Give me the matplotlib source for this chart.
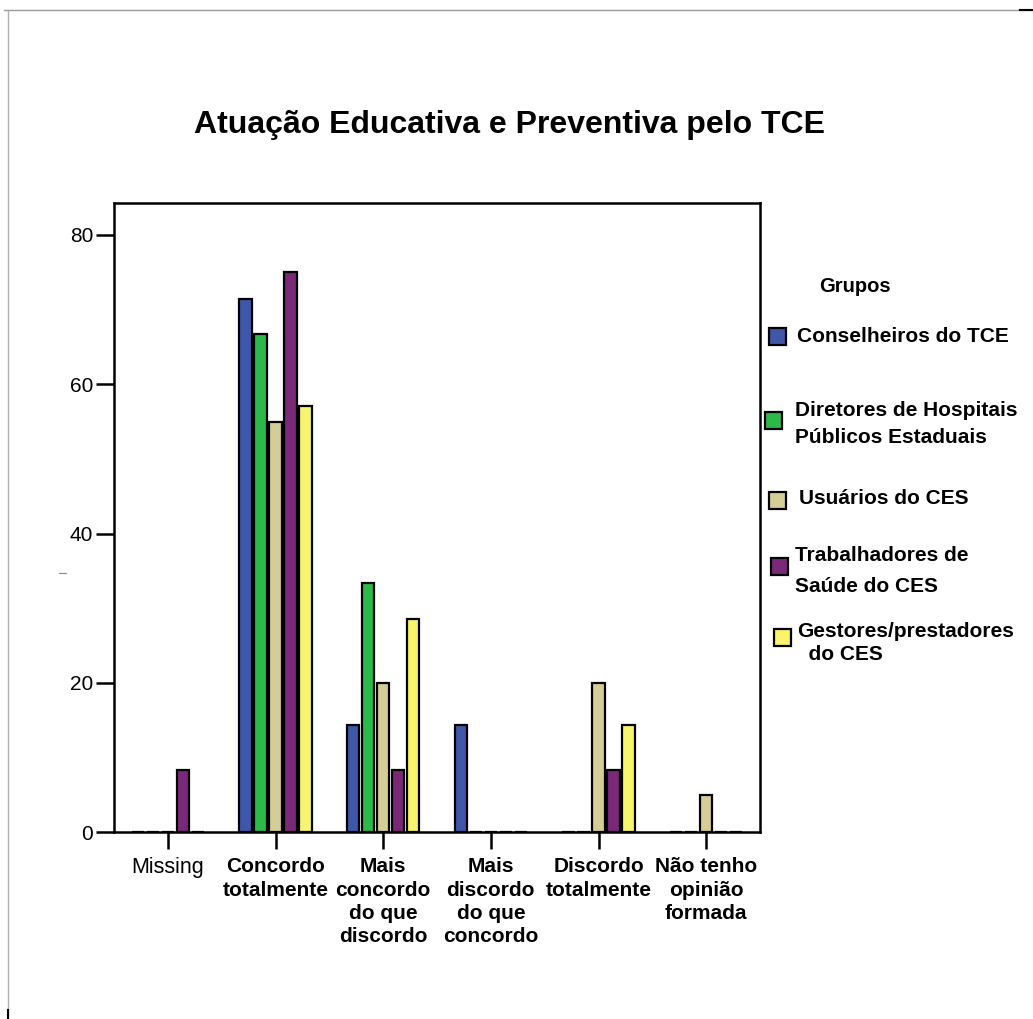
import numpy as np
import matplotlib.pyplot as plt
from matplotlib.lines import Line2D
from matplotlib.patches import Rectangle

plt.rcParams['font.family'] = ['Liberation Sans', 'DejaVu Sans']

categories = ['Missing', 'Concordo\ntotalmente', 'Mais\nconcordo\ndo que\ndiscordo',
              'Mais\ndiscordo\ndo que\nconcordo', 'Discordo\ntotalmente',
              'Não tenho\nopinião\nformada']
groups = ['Conselheiros do TCE', 'Diretores de Hospitais\nPúblicos Estaduais',
          'Usuários do CES', 'Trabalhadores de\nSaúde do CES',
          'Gestores/prestadores\n  do CES']
colors = ['#3F57A8', '#2DB84A', '#D4CE96', '#7A2878', '#F8F46C']

conselheiros = [0, 71.4, 14.3, 14.3, 0, 0]
diretores = [0, 66.7, 33.3, 0, 0, 0]
usuarios = [0, 55.0, 20.0, 0, 20.0, 5.0]
trabalhadores = [8.3, 75.0, 8.3, 0, 8.3, 0]
gestores = [0, 57.1, 28.6, 0, 14.3, 0]
series = [conselheiros, diretores, usuarios, trabalhadores, gestores]

W, H = 1033, 1019
fig = plt.figure(figsize=(W / 100, H / 100), dpi=100)


def px(x, y):
    # pixel position (from top-left) to figure fraction
    return x / W, 1 - y / H


ax = fig.add_axes([114 / W, 1 - 832 / H, (760 - 114) / W, (832 - 203) / H])

x = np.arange(len(categories))
pitch = 0.139
width = 0.116
for i, (vals, c) in enumerate(zip(series, colors)):
    ax.bar(x + (i - 2) * pitch, vals, width, color=c, edgecolor='black',
           linewidth=1.6, zorder=2)

ax.set_xlim(-0.5, 5.5)
ax.set_ylim(0, 80 * (832 - 203) / (832 - 235))
ax.set_yticks([0, 20, 40, 60, 80])
ax.set_xticks(x)
ax.set_xticklabels(categories, fontsize=15, fontweight='bold', linespacing=1.3)
ax.get_xticklabels()[0].set_fontweight('normal')
ax.get_xticklabels()[0].set_fontsize(15.5)
ax.tick_params(axis='y', labelsize=15, length=13, width=1.8, direction='out', pad=2)
ax.tick_params(axis='x', length=12, width=1.8, direction='out', pad=6)
for s in ax.spines.values():
    s.set_linewidth(1.8)

fig.text(*px(509, 125), 'Atuação Educativa e Preventiva pelo TCE', fontsize=23,
         fontweight='bold', ha='center', va='center')

# legend drawn by hand
fig.text(*px(855, 287), 'Grupos', fontsize=14.5, fontweight='bold',
         ha='center', va='center')
legend_pos = [(777, 336, 797, 336, 1.0), (773, 420, 795, 424, 1.5),
              (777, 500, 799, 499, 1.0), (779, 566, 795, 571, 1.75),
              (782, 637, 797, 643, 1.33)]
sq = 17
for (sx, sy, tx, ty, ls), label, c in zip(legend_pos, groups, colors):
    fx, fy = px(sx - sq / 2, sy + sq / 2)
    fig.add_artist(Rectangle((fx, fy), sq / W, sq / H, transform=fig.transFigure,
                             facecolor=c, edgecolor='black', linewidth=1.6))
    fig.text(*px(tx, ty), label, fontsize=15, fontweight='bold', ha='left',
             va='center', linespacing=ls)

# page frame
fig.add_artist(Line2D([4 / W, 1], [1 - 10 / H] * 2, color='#9a9a9a', lw=1,
                      transform=fig.transFigure))
fig.add_artist(Line2D([8 / W] * 2, [0, 1 - 10 / H], color='#b0b0b0', lw=1,
                      transform=fig.transFigure))
fig.add_artist(Line2D([1020 / W, 1], [1 - 10 / H] * 2, color='black', lw=1.5,
                      transform=fig.transFigure))
fig.add_artist(Line2D([8 / W] * 2, [0, 1 - 1010 / H], color='black', lw=1.5,
                      transform=fig.transFigure))
fig.add_artist(Line2D([59 / W, 66 / W], [1 - 573 / H] * 2, color='#888888', lw=0.8,
                      transform=fig.transFigure))

fig.savefig('out.png', dpi=100)
